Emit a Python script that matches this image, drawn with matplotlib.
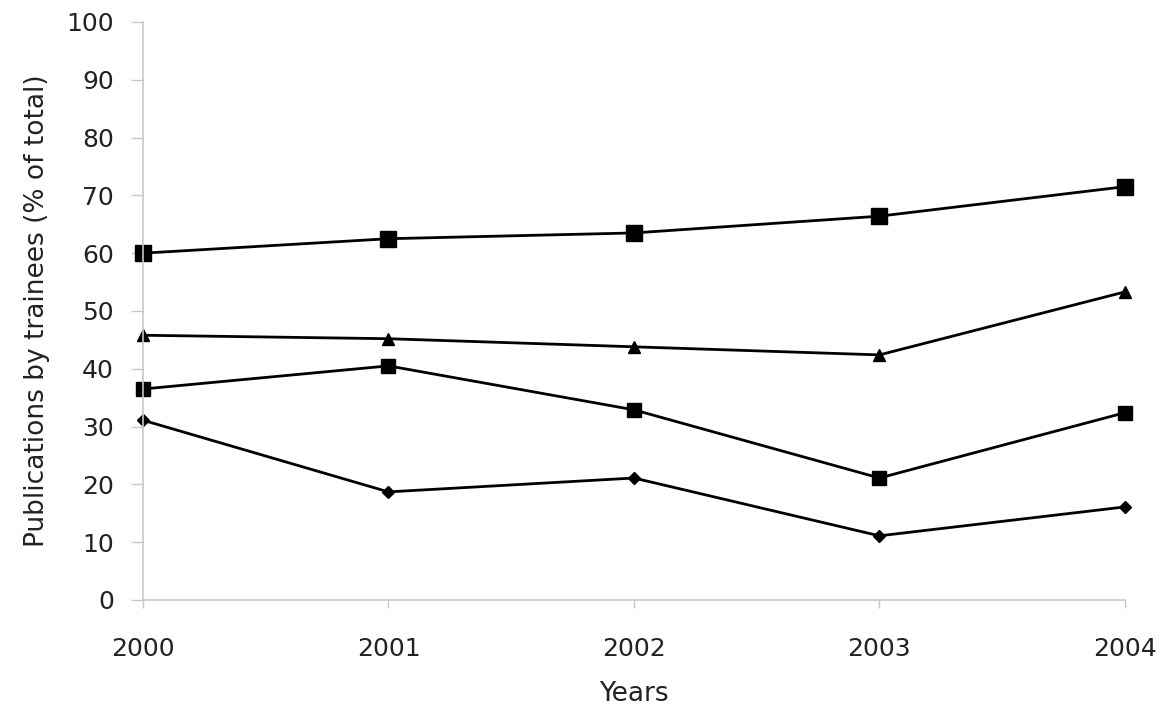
import matplotlib.pyplot as plt

years = [2000, 2001, 2002, 2003, 2004]
big_squares = [60.0, 62.5, 63.5, 66.4, 71.5]
triangles = [45.8, 45.2, 43.8, 42.4, 53.3]
small_squares = [36.5, 40.5, 32.9, 21.1, 32.4]
diamonds = [31.1, 18.7, 21.1, 11.1, 16.1]

plt.rcParams['font.family'] = ['DejaVu Sans']

fig = plt.figure(figsize=(11.68, 7.2), dpi=100)
ax = fig.add_axes([0.1224, 0.1667, 0.8407, 0.8028])

ax.plot(years, big_squares, color='black', lw=2, marker='s', ms=11, clip_on=False)
ax.plot(years, triangles, color='black', lw=2, marker='^', ms=9, clip_on=False)
ax.plot(years, small_squares, color='black', lw=2, marker='s', ms=9.5, clip_on=False)
ax.plot(years, diamonds, color='black', lw=2, marker='D', ms=6.5, clip_on=False)

ax.set_xlim(2000, 2004)
ax.set_ylim(0, 100)
ax.set_xticks(years)
ax.set_yticks(range(0, 101, 10))

for s in ['top', 'right']:
    ax.spines[s].set_visible(False)
for s in ['left', 'bottom']:
    ax.spines[s].set_color('#c8c8c8')
    ax.spines[s].set_linewidth(1.2)
ax.tick_params(colors='#c8c8c8', labelcolor='#222222', labelsize=18, width=1)
ax.tick_params(axis='x', length=6, pad=21)
ax.tick_params(axis='y', length=9, pad=12)

ax.set_xlabel('Years', fontsize=19, color='#222222', labelpad=14)
ax.set_ylabel('Publications by trainees (% of total)', fontsize=19, color='#222222', labelpad=12)

fig.savefig('out.png', dpi=100)
